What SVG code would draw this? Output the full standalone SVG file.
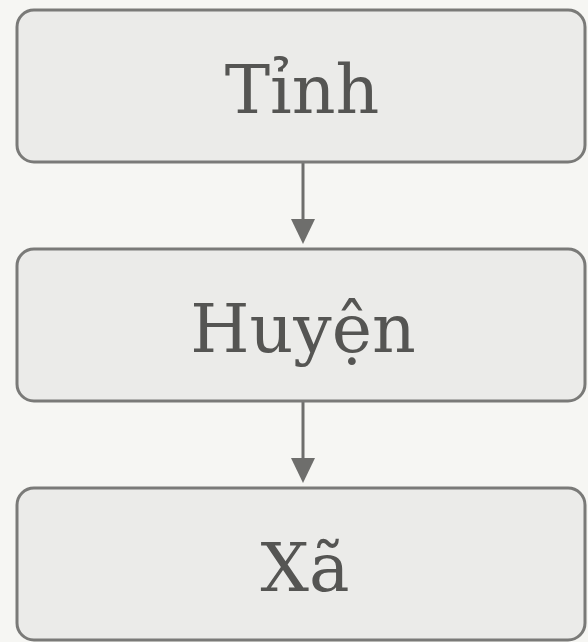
<svg xmlns="http://www.w3.org/2000/svg" width="588" height="642" viewBox="0 0 588 642">
<defs>
<style>
.box{fill:#ebebe9;stroke:#7a7a78;stroke-width:3}
.lbl{font-family:"DejaVu Serif","Liberation Serif",serif;font-size:68px;fill:#555553;text-anchor:middle}
.edge{stroke:#6e6e6c;stroke-width:3;fill:none}
</style>
</defs>
<rect width="588" height="642" fill="#f6f6f3"/>
<g id="edges">
<line class="edge" x1="303" y1="163" x2="303" y2="220"/>
<path d="M291,219 L315,219 L303,244 Z" fill="#6e6e6c"/>
<line class="edge" x1="303" y1="402" x2="303" y2="459"/>
<path d="M291,458 L315,458 L303,483 Z" fill="#6e6e6c"/>
</g>
<g id="tinh">
<rect class="box" x="17" y="10" width="568" height="152" rx="17"/>
<text class="lbl" x="302" y="113">Tỉnh</text>
</g>
<g id="huyen">
<rect class="box" x="17" y="249" width="568" height="152" rx="17"/>
<text class="lbl" x="303" y="352">Huyện</text>
</g>
<g id="xa">
<rect class="box" x="17" y="488" width="568" height="152" rx="17"/>
<text class="lbl" x="305" y="591">Xã</text>
</g>
</svg>
